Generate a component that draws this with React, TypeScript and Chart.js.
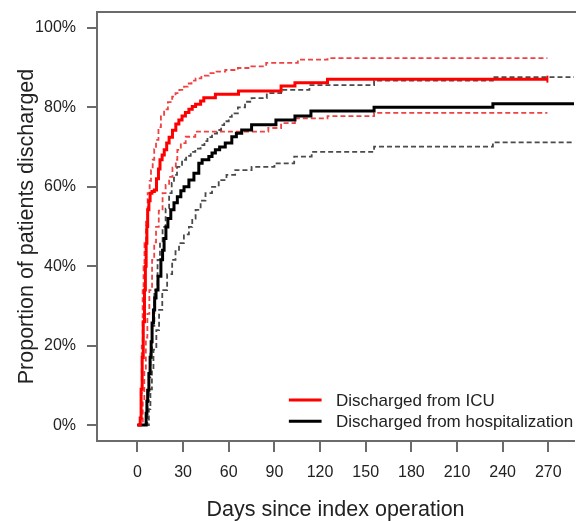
import React, { useEffect, useRef } from "react";
import { Chart, registerables } from "chart.js";

Chart.register(...registerables);

// ---- data ----
const xTicks = [0, 30, 60, 90, 120, 150, 180, 210, 240, 270];
const yTicks = [0, 20, 40, 60, 80, 100];

const icuDays = [0, 1.5, 1.8, 2.4, 3.1, 3.8, 4.6, 5.2, 5.7, 6.2, 6.7, 7.5, 8.3, 9.5, 11.1, 12.5, 13.8, 14.8, 16.2, 17.6, 19.2, 20.8, 23, 25.2, 27.2, 29.3, 31.5, 33.8, 36, 38.2, 41.5, 43.6, 51.2, 66.4, 94.4, 103.5, 124.9, 269.4];
const icuPct = [0, 0, 1.8, 9, 17, 26, 34, 40, 45.8, 50, 54.2, 56.5, 58.4, 58.8, 59.2, 62, 64.5, 66.8, 68, 69.3, 71, 72.5, 74.2, 75.8, 76.8, 77.8, 78.7, 79.5, 80.2, 80.8, 81.6, 82.4, 83.3, 84.1, 85.4, 86.2, 87.1, 87.1];

const icuUpperDays = [0, 1.5, 2.2, 2.8, 3.4, 4.0, 4.6, 5.6, 6.7, 8, 8.9, 10, 11, 12.2, 13.8, 15.4, 17.5, 20, 22.8, 25, 27.5, 30.6, 33, 35.5, 38.2, 42, 46.9, 52, 57.7, 66, 74.8, 84.6, 105.4, 124.9, 269.4];
const icuUpperPct = [0, 0, 8, 20, 34, 40, 45.8, 52, 58.4, 61.5, 64.2, 66.8, 69.5, 71.8, 75, 77.7, 79.5, 81.3, 82.7, 83.6, 84.4, 85.2, 86, 86.7, 87.3, 88, 88.6, 89, 89.4, 89.9, 90.3, 91.2, 92.0, 92.4, 92.4];

const icuLowerDays = [0, 2.5, 3.5, 4.5, 5.5, 6.5, 7.8, 9.6, 11, 12.2, 14, 16.5, 18.5, 20.8, 23, 25.2, 26.2, 28.5, 31.7, 38, 86, 94.4, 103.5, 124.9, 155.5, 269.4];
const icuLowerPct = [0, 0, 6, 14, 22, 28, 34, 41.6, 46, 49.9, 54, 58.4, 60.5, 62.5, 64.8, 66.8, 69.3, 71, 72.6, 73.9, 74.8, 76, 77.2, 77.8, 78.6, 78.6];

const hospDays = [0, 5.7, 6.2, 6.7, 7.5, 8.3, 9, 9.6, 10.5, 11.3, 12.2, 13.5, 15.4, 16.5, 17.5, 18.7, 20, 21.9, 24, 26.2, 28.5, 30.6, 33.8, 37.1, 40.3, 42.5, 46.9, 49, 51.2, 54, 57.7, 62, 65, 68.5, 75, 91, 103.5, 114, 155.5, 233.6, 290];
const hospPct = [0, 3, 6, 8.8, 13, 17.1, 21, 25.7, 29, 32, 34, 37.5, 41.6, 44, 47, 49.9, 52, 54.2, 56, 57.5, 59, 60, 61.7, 63.4, 65.9, 66.8, 67.6, 68.5, 69.3, 70, 71, 72.6, 73.5, 74.3, 75.6, 76.8, 77.8, 79.1, 80, 80.9, 80.9];

const hospUpperDays = [0, 5.7, 6.5, 7.5, 8.5, 9.5, 11.1, 13.2, 14.8, 16.5, 18.5, 20.8, 22.5, 24, 26, 29.3, 32, 35, 38, 41.5, 44, 46, 49, 52.3, 55, 57, 60, 62, 66, 70.7, 75, 85, 94.4, 113, 155.5, 233.6, 290];
const hospUpperPct = [0, 0, 6, 12, 18, 25, 34, 41.6, 46, 49.9, 54.5, 58.4, 61, 63, 65, 66.8, 67.8, 68.8, 69.6, 70.5, 71.5, 72.5, 73.4, 74.3, 75.5, 76.5, 77.6, 78.5, 80, 81.4, 82.3, 83.6, 84.4, 85.6, 86.7, 87.6, 87.6];

const hospLowerDays = [0, 6.5, 7.5, 8.5, 9.5, 10.5, 12.4, 14.2, 16.3, 19.5, 22.8, 25, 27.3, 30.5, 33.8, 36, 38.2, 41.5, 44.7, 49, 53.4, 58.5, 64.2, 75, 90, 103, 114.5, 155.5, 233.6, 290];
const hospLowerPct = [0, 0, 4, 9, 14, 19, 23.9, 29, 34, 38, 41.6, 43.8, 45.8, 48, 49.9, 52, 54.2, 56.5, 58.4, 60, 61.7, 63, 64.2, 65, 65.9, 67.6, 68.8, 70.1, 71.2, 71.2];

const legendLabels = ["Discharged from ICU", "Discharged from hospitalization"];
const legendColors = ["#ff0000", "#000000"];

// ---- styling ----
const FONT = "'Liberation Sans', Arial, Helvetica, sans-serif";
const TEXT = "#222222";
const AXIS = "#6b6b6b";

const zip = (xs: number[], ys: number[]) => xs.map((x, i) => ({ x, y: ys[i] }));

const boxAndLegend = {
  id: "boxAndLegend",
  afterDraw(chart: any) {
    const { ctx, chartArea } = chart;
    ctx.save();
    ctx.strokeStyle = AXIS;
    ctx.lineWidth = 2;
    ctx.beginPath();
    ctx.moveTo(chartArea.left - 1, chartArea.top);
    ctx.lineTo(chartArea.right + 2, chartArea.top);
    ctx.stroke();

    // legend (inside plot, lower right)
    const xs = chart.scales.x;
    const ys = chart.scales.y;
    const lx0 = xs.getPixelForValue(99.5);
    const lx1 = xs.getPixelForValue(121);
    const tx = xs.getPixelForValue(130.5);
    const rows = [ys.getPixelForValue(6.3), ys.getPixelForValue(1.0)];
    ctx.font = `17px ${FONT}`;
    ctx.textBaseline = "middle";
    ctx.textAlign = "left";
    rows.forEach((ry: number, i: number) => {
      ctx.strokeStyle = legendColors[i];
      ctx.lineWidth = 3;
      ctx.beginPath();
      ctx.moveTo(lx0, ry);
      ctx.lineTo(lx1, ry);
      ctx.stroke();
      ctx.fillStyle = TEXT;
      ctx.fillText(legendLabels[i], tx, ry + 1);
    });
    ctx.restore();
  },
};

export default function App() {
  const ref = useRef<HTMLCanvasElement | null>(null);

  useEffect(() => {
    if (!ref.current) return;
    const solid = (label: string, data: any, color: string) => ({
      label,
      data,
      borderColor: color,
      backgroundColor: color,
      borderWidth: 3,
      stepped: "before" as const,
      pointRadius: 0,
      fill: false,
    });
    const dashed = (label: string, data: any, color: string) => ({
      label,
      data,
      borderColor: color,
      borderWidth: 1.8,
      borderDash: [5, 3],
      stepped: "before" as const,
      pointRadius: 0,
      fill: false,
    });
    const icu = zip(icuDays, icuPct);
    const chart = new Chart(ref.current, {
      type: "line",
      data: {
        datasets: [
          {
            label: "censor",
            data: [icu[icu.length - 1]],
            showLine: false,
            pointStyle: "line",
            pointRotation: 90,
            pointRadius: 3.5,
            pointBorderColor: "#ff0000",
            pointBorderWidth: 2,
            borderColor: "#ff0000",
          } as any,
          solid(legendLabels[0], icu, "#ff0000"),
          solid(legendLabels[1], zip(hospDays, hospPct), "#000000"),
          dashed("ICU upper", zip(icuUpperDays, icuUpperPct), "rgba(238,45,45,0.9)"),
          dashed("ICU lower", zip(icuLowerDays, icuLowerPct), "rgba(238,45,45,0.9)"),
          dashed("Hosp upper", zip(hospUpperDays, hospUpperPct), "#4a4a4a"),
          dashed("Hosp lower", zip(hospLowerDays, hospLowerPct), "#4a4a4a"),
        ],
      },
      options: {
        responsive: false,
        animation: false,
        layout: { padding: { top: 12, left: 0, right: 0, bottom: 0 } },
        plugins: { legend: { display: false }, tooltip: { enabled: false } },
        elements: { line: { tension: 0 } },
        scales: {
          x: {
            type: "linear",
            min: -26.6,
            max: 286.9,
            afterBuildTicks: (s: any) => {
              s.ticks = xTicks.map((v) => ({ value: v }));
            },
            afterFit: (s: any) => {
              s.height = 80;
              s.paddingLeft = 0;
              s.paddingRight = 0;
            },
            grid: { drawOnChartArea: false, drawTicks: true, tickLength: 11, color: AXIS, lineWidth: 2 },
            border: { display: true, color: AXIS, width: 2 },
            ticks: {
              font: { size: 16, family: FONT },
              color: TEXT,
              padding: 11,
              maxRotation: 0,
              autoSkip: false,
            },
            title: {
              display: true,
              text: "Days since index operation",
              font: { size: 21.5, family: FONT, lineHeight: 1 },
              color: TEXT,
              padding: { top: 0, bottom: 0 },
            },
          },
          y: {
            type: "linear",
            min: -4,
            max: 104,
            afterBuildTicks: (s: any) => {
              s.ticks = yTicks.map((v) => ({ value: v }));
            },
            afterFit: (s: any) => {
              s.width = 97;
              s.paddingTop = 0;
              s.paddingBottom = 0;
            },
            grid: { drawOnChartArea: false, drawTicks: true, tickLength: 10, color: AXIS, lineWidth: 2 },
            border: { display: true, color: AXIS, width: 2 },
            ticks: {
              font: { size: 16, family: FONT },
              color: TEXT,
              padding: 11,
              callback: (v: any) => `${v}%`,
            },
            title: {
              display: true,
              text: "Proportion of patients discharged",
              font: { size: 21.5, family: FONT, lineHeight: 1 },
              color: TEXT,
              padding: { top: 16, bottom: 0 },
            },
          },
        },
      },
      plugins: [boxAndLegend],
    });
    return () => chart.destroy();
  }, []);

  return (
    <div style={{ position: "absolute", left: 0, top: 0, width: 580, height: 521, background: "#fff" }}>
      <canvas ref={ref} width={580} height={521} style={{ display: "block" }} />
    </div>
  );
}
